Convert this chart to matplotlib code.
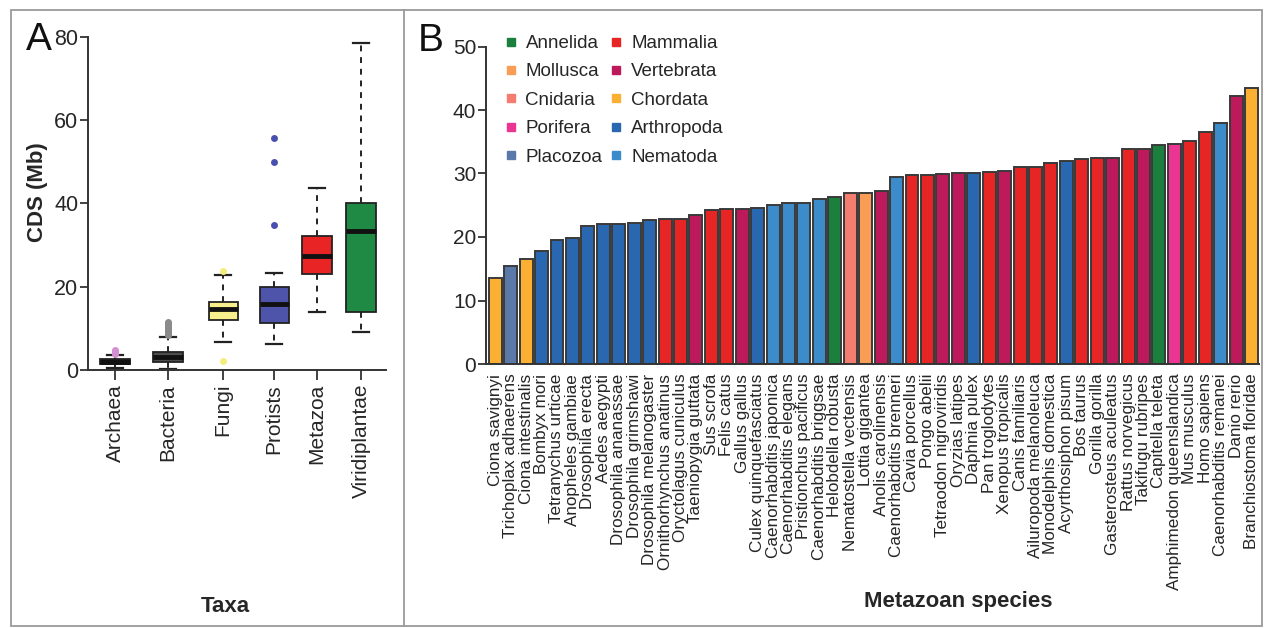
import matplotlib
matplotlib.use('Agg')
import matplotlib.pyplot as plt
from matplotlib.lines import Line2D
from matplotlib.patches import Rectangle

# ---------------- Panel A data ----------------
taxa = ['Archaea', 'Bacteria', 'Fungi', 'Protists', 'Metazoa', 'Viridiplantae']
median_mb = [2.0, 3.2, 14.6, 15.8, 27.4, 33.4]
q1_mb = [1.45, 1.85, 12.0, 11.2, 23.1, 14.0]
q3_mb = [2.55, 4.4, 16.4, 20.0, 32.2, 40.2]
whisker_lo = [0.6, 0.25, 6.8, 6.2, 13.9, 9.1]
whisker_hi = [3.6, 7.85, 22.8, 23.4, 43.7, 78.6]
outliers = [
    [3.9, 4.2, 4.5, 4.8],
    [8.4, 8.8, 9.1, 9.4, 9.8, 10.1, 10.5, 10.9, 11.3, 11.6],
    [23.8, 2.2],
    [55.6, 49.9, 34.8],
    [],
    [],
]
box_colors = ['#1f1f1f', '#4d4d4d', '#f6ef8c', '#4f54ab', '#e82424', '#1f8a44']
flier_colors = ['#d28fd1', '#8a8a8a', '#f3ee7a', '#4a50b0', '#e82424', '#1f8a44']

# ---------------- Panel B data ----------------
species = ['Ciona savignyi', 'Trichoplax adhaerens', 'Ciona intestinalis', 'Bombyx mori',
           'Tetranychus urticae', 'Anopheles gambiae', 'Drosophila erecta', 'Aedes aegypti',
           'Drosophila ananassae', 'Drosophila grimshawi', 'Drosophila melanogaster',
           'Ornithorhynchus anatinus', 'Oryctolagus cuniculus', 'Taeniopygia guttata',
           'Sus scrofa', 'Felis catus', 'Gallus gallus', 'Culex quinquefasciatus',
           'Caenorhabditis japonica', 'Caenorhabditis elegans', 'Pristionchus pacificus',
           'Caenorhabditis briggsae', 'Helobdella robusta', 'Nematostella vectensis',
           'Lottia gigantea', 'Anolis carolinensis', 'Caenorhabditis brenneri',
           'Cavia porcellus', 'Pongo abelii', 'Tetraodon nigroviridis', 'Oryzias latipes',
           'Daphnia pulex', 'Pan troglodytes', 'Xenopus tropicalis', 'Canis familiaris',
           'Ailuropoda melanoleuca', 'Monodelphis domestica', 'Acyrthosiphon pisum',
           'Bos taurus', 'Gorilla gorilla', 'Gasterosteus aculeatus', 'Rattus norvegicus',
           'Takifugu rubripes', 'Capitella teleta', 'Amphimedon queenslandica',
           'Mus musculus', 'Homo sapiens', 'Caenorhabditis remanei', 'Danio rerio',
           'Branchiostoma floridae']
cds_mb = [13.6, 15.5, 16.6, 17.8, 19.5, 19.9, 21.7, 22.0, 22.0, 22.2, 22.65, 22.8, 22.8,
          23.5, 24.3, 24.4, 24.4, 24.6, 25.1, 25.3, 25.4, 26.0, 26.3, 26.9, 27.0, 27.25,
          29.4, 29.7, 29.7, 29.95, 30.1, 30.1, 30.16, 30.4, 31.0, 31.05, 31.7, 31.9, 32.3,
          32.5, 32.5, 33.8, 33.9, 34.55, 34.65, 35.1, 36.6, 37.9, 42.2, 43.4]
clade = ['Chordata', 'Placozoa', 'Chordata', 'Arthropoda', 'Arthropoda', 'Arthropoda',
         'Arthropoda', 'Arthropoda', 'Arthropoda', 'Arthropoda', 'Arthropoda',
         'Mammalia', 'Mammalia', 'Vertebrata', 'Mammalia', 'Mammalia', 'Vertebrata',
         'Arthropoda', 'Nematoda', 'Nematoda', 'Nematoda', 'Nematoda', 'Annelida',
         'Cnidaria', 'Mollusca', 'Vertebrata', 'Nematoda', 'Mammalia', 'Mammalia',
         'Vertebrata', 'Vertebrata', 'Arthropoda', 'Mammalia', 'Vertebrata', 'Mammalia',
         'Mammalia', 'Mammalia', 'Arthropoda', 'Mammalia', 'Mammalia', 'Vertebrata',
         'Mammalia', 'Vertebrata', 'Annelida', 'Porifera', 'Mammalia', 'Mammalia',
         'Nematoda', 'Vertebrata', 'Chordata']
legend_order = ['Annelida', 'Mollusca', 'Cnidaria', 'Porifera', 'Placozoa',
                'Mammalia', 'Vertebrata', 'Chordata', 'Arthropoda', 'Nematoda']
clade_colors = {
    'Annelida': '#1b7f3e', 'Mollusca': '#f89c56', 'Cnidaria': '#f47d70',
    'Porifera': '#ea3592', 'Placozoa': '#5a78a8', 'Mammalia': '#e82525',
    'Vertebrata': '#bc1a5a', 'Chordata': '#fbb034', 'Arthropoda': '#2a67b1',
    'Nematoda': '#3c8bcb',
}

plt.rcParams['font.family'] = ['Liberation Sans', 'DejaVu Sans']
TXT = '#262626'
AX = '#333333'

W, H = 1267, 628
fig = plt.figure(figsize=(W / 100, H / 100), dpi=100)


def fx(px):
    return px / W


def fy(py):
    return 1 - py / H


# ---------------- Panel A ----------------
axA = fig.add_axes([fx(88), fy(370), fx(386) - fx(88), fy(36.7) - fy(370)])
stats = []
for i, t in enumerate(taxa):
    stats.append(dict(label=t, med=median_mb[i], q1=q1_mb[i], q3=q3_mb[i],
                      whislo=whisker_lo[i], whishi=whisker_hi[i], fliers=outliers[i]))
positions = [1, 2, 3.04, 4, 4.81, 5.64]
bp = axA.bxp(stats, positions=positions, widths=0.55, patch_artist=True, showfliers=True,
             boxprops=dict(edgecolor='#222222', linewidth=1.3),
             medianprops=dict(color='#111111', linewidth=3.5),
             whiskerprops=dict(color='#222222', linewidth=1.4, linestyle=(0, (3, 3))),
             capprops=dict(color='#222222', linewidth=1.6), capwidths=0.3,
             flierprops=dict(marker='o', markersize=5, markeredgewidth=0))
for patch, c in zip(bp['boxes'], box_colors):
    patch.set_facecolor(c)
for fl, c in zip(bp['fliers'], flier_colors):
    fl.set_markerfacecolor(c)
    fl.set_markeredgecolor(c)
for art in bp['whiskers'] + bp['caps'] + bp['fliers']:
    art.set_clip_on(False)

axA.set_xlim(0.49, 6.11)
axA.set_ylim(0, 80)
axA.set_yticks([0, 20, 40, 60, 80])
axA.spines['top'].set_visible(False)
axA.spines['right'].set_visible(False)
for s in ('left', 'bottom'):
    axA.spines[s].set_color(AX)
    axA.spines[s].set_linewidth(1.4)
axA.tick_params(axis='y', length=6, width=1.3, labelsize=15.5, pad=1, colors=AX, labelcolor=TXT)
axA.tick_params(axis='x', length=7, width=1.3, labelsize=15, pad=3, colors=AX, labelcolor=TXT,
                labelrotation=90)

fig.text(fx(38), fy(192), 'CDS (Mb)', rotation=90, ha='center', va='center',
         fontsize=16, fontweight='bold', color=TXT)
fig.text(fx(225), fy(606), 'Taxa', ha='center', va='center', fontsize=16,
         fontweight='bold', color=TXT)

# ---------------- Panel B ----------------
axB = fig.add_axes([fx(486), fy(364), fx(1258.5) - fx(486), fy(46.5) - fy(364)])
xs = list(range(len(species)))
axB.bar(xs, cds_mb, width=0.84, color=[clade_colors[c] for c in clade],
        edgecolor='#3a3a3a', linewidth=1.4)
axB.set_xlim(-0.6, 49.45)
axB.set_ylim(0, 50)
axB.set_yticks([0, 10, 20, 30, 40, 50])
axB.set_xticks(xs)
axB.set_xticklabels(species, rotation=90, fontsize=12.3, color=TXT)
axB.spines['top'].set_visible(False)
axB.spines['right'].set_visible(False)
for s in ('left', 'bottom'):
    axB.spines[s].set_color(AX)
    axB.spines[s].set_linewidth(1.4)
axB.tick_params(axis='y', length=6, width=1.3, labelsize=15, pad=1, colors=AX, labelcolor=TXT)
axB.tick_params(axis='x', length=0, pad=7)

handles = [Line2D([], [], marker='s', linestyle='', markersize=6,
                  color=clade_colors[c]) for c in legend_order]
axB.legend(handles, legend_order, ncol=2, loc='upper left',
           bbox_to_anchor=(fx(503), fy(35)), bbox_transform=fig.transFigure,
           frameon=False, fontsize=13.5, handlelength=0.8, handletextpad=0.4,
           labelspacing=0.6, columnspacing=0.33, borderaxespad=0, borderpad=0,
           labelcolor=TXT)

fig.text(fx(958), fy(602), 'Metazoan species', ha='center', va='center', fontsize=16,
         fontweight='bold', color=TXT)

# ---------------- panel labels & frame ----------------
fig.text(fx(39), fy(40), 'A', ha='center', va='center', fontsize=28, color='#111111')
fig.text(fx(431), fy(41), 'B', ha='center', va='center', fontsize=28, color='#111111')

fig.add_artist(Rectangle((fx(11), fy(626)), fx(1262) - fx(11), fy(10) - fy(626),
                         transform=fig.transFigure, fill=False, edgecolor='#9a9a9a',
                         linewidth=1.3))
fig.add_artist(Line2D([fx(404), fx(404)], [fy(10), fy(626)], transform=fig.transFigure,
                      color='#9a9a9a', linewidth=1.3))

fig.savefig('out.png', dpi=100)
